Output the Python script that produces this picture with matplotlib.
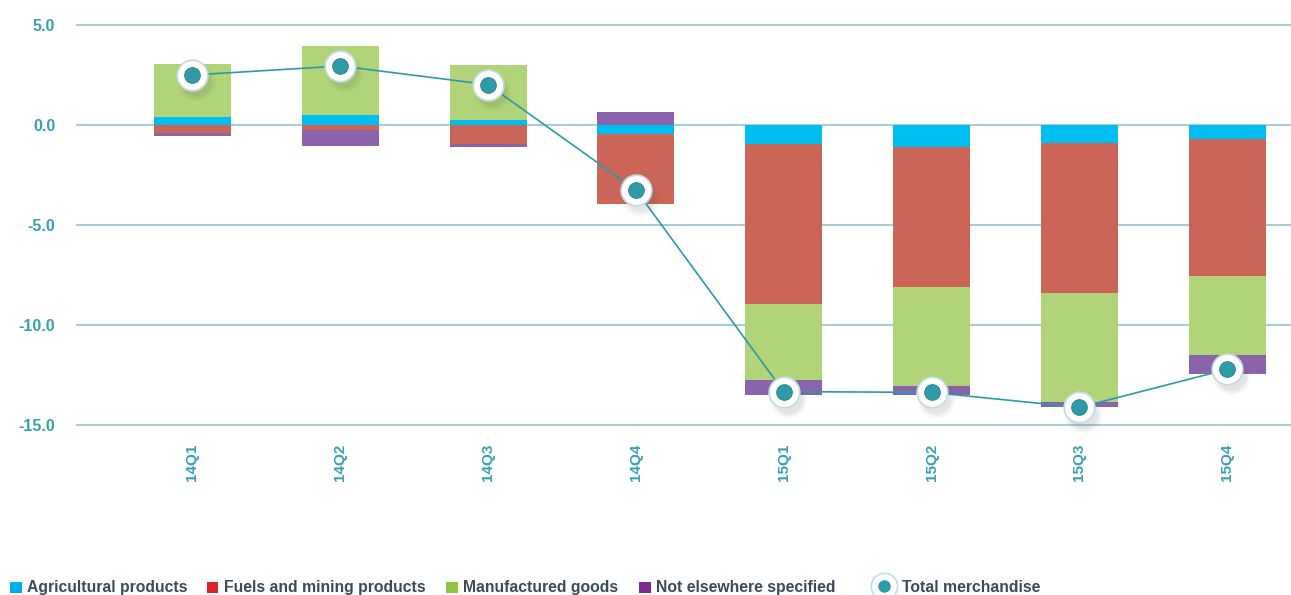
import numpy as np
import matplotlib
matplotlib.use("Agg")
import matplotlib.pyplot as plt
from matplotlib.patches import Rectangle
from matplotlib.lines import Line2D
from matplotlib.transforms import offset_copy

plt.rcParams['font.family'] = ['Liberation Sans', 'DejaVu Sans']

# 1. DATA
quarters = ['14Q1', '14Q2', '14Q3', '14Q4', '15Q1', '15Q2', '15Q3', '15Q4']
agricultural = [0.40, 0.48, 0.25, -0.45, -0.97, -1.10, -0.88, -0.70]
fuels_mining = [-0.42, -0.25, -0.95, -3.52, -7.98, -7.02, -7.52, -6.85]
manufactured = [2.65, 3.47, 2.73, 0.00, -3.80, -4.93, -5.45, -3.97]
not_specified = [-0.11, -0.80, -0.13, 0.63, -0.73, -0.43, -0.27, -0.92]
total_merch = [2.50, 2.95, 2.02, -3.25, -13.33, -13.37, -14.12, -12.22]
y_ticks = [5, 0, -5, -10, -15]

series_names = ['Agricultural products', 'Fuels and mining products',
                'Manufactured goods', 'Not elsewhere specified']
series_values = [agricultural, fuels_mining, manufactured, not_specified]
bar_colors = ['#00BFF0', '#CB6557', '#B0D477', '#8B63AA']
legend_colors = ['#00AEEF', '#D8232A', '#8DC63F', '#7B2E91']

tick_color = '#3AA0AF'
grid_color = '#A9CDD4'
line_color = '#2B9AAA'
text_color = '#3B4B57'

# 2. FIGURE SETUP
W, H = 1291, 595
fig = plt.figure(figsize=(W / 100, H / 100), dpi=100)
ax = fig.add_axes([76 / W, 1 - 432 / H, 1 - 76 / W, (432 - 10) / H])

x = np.arange(len(quarters))
width = 0.52

# 3. STACKED BARS (positives and negatives stacked separately)
pos_bottom = np.zeros(len(quarters))
neg_bottom = np.zeros(len(quarters))
for vals, color in zip(series_values, bar_colors):
    vals = np.array(vals)
    bottoms = np.where(vals >= 0, pos_bottom, neg_bottom)
    ax.bar(x, vals, width, bottom=bottoms, color=color, zorder=2, linewidth=0)
    pos_bottom += np.where(vals >= 0, vals, 0)
    neg_bottom += np.where(vals < 0, vals, 0)

# 4. TOTAL LINE WITH SHADOWED MARKERS
ax.plot(x, total_merch, color=line_color, linewidth=1.2, zorder=3)
for ms, a in [(27, 0.04), (24, 0.05), (21, 0.07)]:
    shadow = offset_copy(ax.transData, fig=fig, x=4, y=-7, units='dots')
    ax.plot(x, total_merch, linestyle='none', marker='o', markersize=ms,
            markerfacecolor='#555555', markeredgewidth=0, alpha=a,
            transform=shadow, zorder=3.5)
ax.plot(x, total_merch, linestyle='none', marker='o', markersize=22,
        markerfacecolor='white', markeredgecolor='#C4DCE1', markeredgewidth=1.3, zorder=4)
ax.plot(x, total_merch, linestyle='none', marker='o', markersize=11.3,
        markerfacecolor='#2E9CA8', markeredgecolor='#237F8A', markeredgewidth=0.6, zorder=5)

# 5. AXES STYLING
ax.set_xlim(-0.788, 7.432)
ax.set_ylim(-15.35, 5.75)
ax.set_yticks(y_ticks)
ax.set_yticklabels(['%.1f' % v for v in y_ticks], fontweight='bold')
ax.set_xticks(x)
ax.set_xticklabels(quarters, rotation=90, fontweight='bold')
ax.tick_params(axis='y', length=0, pad=15, labelsize=11.5, labelcolor=tick_color)
ax.tick_params(axis='x', length=0, pad=8.5, labelsize=11, labelcolor=tick_color)
ax.yaxis.grid(True, color=grid_color, linewidth=1.5)
ax.set_axisbelow(True)
for sp in ax.spines.values():
    sp.set_visible(False)

# 6. LEGEND (placed along the bottom)
legend_y = 1 - 587.5 / H
square_x = [10, 207, 446, 639]
for sx, name, col in zip(square_x, series_names, legend_colors):
    fig.add_artist(Rectangle((sx / W, 1 - 593 / H), 11.5 / W, 11.5 / H,
                             transform=fig.transFigure, color=col, linewidth=0))
    fig.text((sx + 17) / W, legend_y, name, fontsize=11.3, fontweight='bold',
             color=text_color, va='center', ha='left')
fig.add_artist(Line2D([884 / W], [1 - 586 / H], marker='o', markersize=19,
                      markerfacecolor='white', markeredgecolor='#C4DCE1',
                      markeredgewidth=1.2, transform=fig.transFigure))
fig.add_artist(Line2D([884 / W], [1 - 586 / H], marker='o', markersize=9,
                      markerfacecolor='#2E9CA8', markeredgewidth=0,
                      transform=fig.transFigure))
fig.text(902 / W, legend_y, 'Total merchandise', fontsize=11.3, fontweight='bold',
         color=text_color, va='center', ha='left')

fig.savefig('out.png', dpi=100)
